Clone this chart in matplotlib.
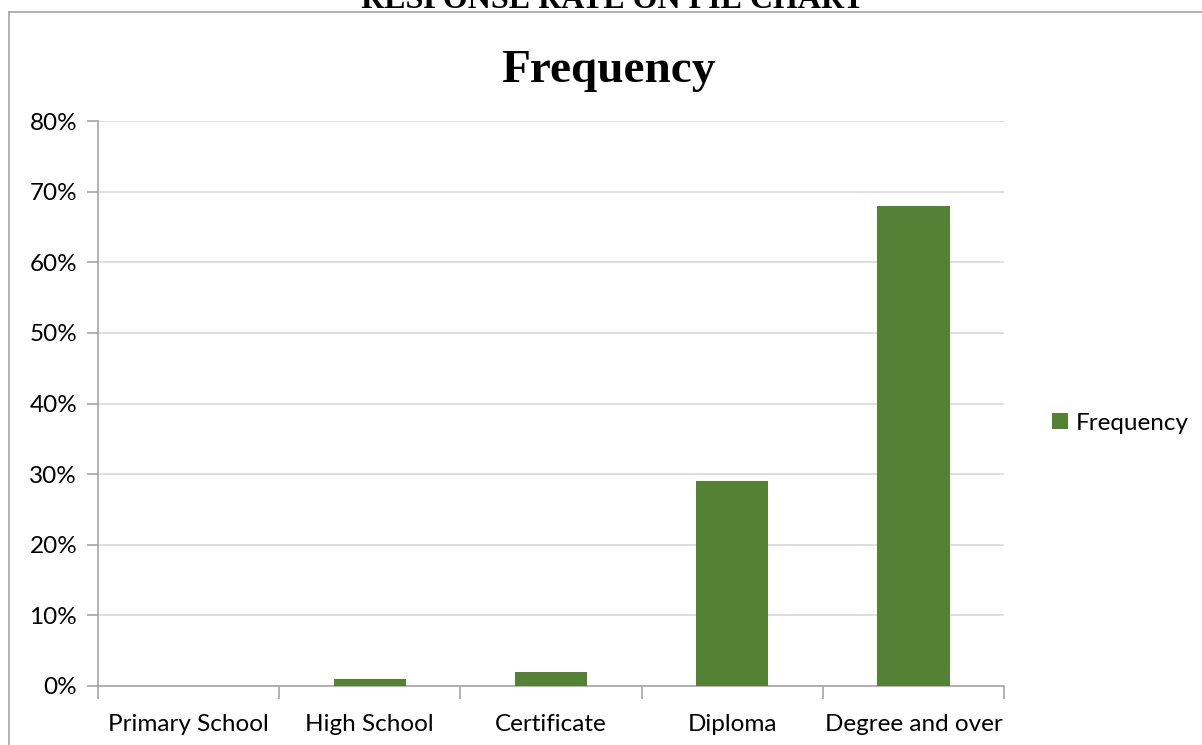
import matplotlib
matplotlib.use("Agg")
import matplotlib.pyplot as plt
from matplotlib.lines import Line2D
from matplotlib.patches import Patch
from matplotlib.ticker import PercentFormatter

# data
categories = ["Primary School", "High School", "Certificate", "Diploma", "Degree and over"]
frequency = [0.0, 0.01, 0.02, 0.29, 0.68]
y_ticks = [0.0, 0.1, 0.2, 0.3, 0.4, 0.5, 0.6, 0.7, 0.8]

green = "#548235"
grid_grey = "#d9d9d9"
axis_grey = "#a6a6a6"
label_font = "Lato"
label_size = 17.5

W, H = 1202, 745
fig = plt.figure(figsize=(W / 100, H / 100), dpi=100)
fig.patch.set_facecolor("white")

# chart frame (only the left and top edges fall inside the picture)
fig.add_artist(Line2D([9 / W, 9 / W], [0, 1 - 12 / H], transform=fig.transFigure,
                      color=axis_grey, lw=1.2))
fig.add_artist(Line2D([9 / W, 1], [1 - 12 / H, 1 - 12 / H], transform=fig.transFigure,
                      color=axis_grey, lw=1.2))

# caption of the document, cut off at the top edge like in the source
fig.text(613 / W, 1 - 8 / H, "RESPONSE RATE ON PIE CHART", ha="center", va="baseline",
         fontsize=23, fontweight="bold", family="Liberation Serif")

ax = fig.add_axes([98 / W, 1 - 686 / H, (1004 - 98) / W, (686 - 121) / H])
x = list(range(len(categories)))
ax.bar(x, frequency, width=0.4, color=green, zorder=3, label="Frequency")

ax.set_xlim(-0.5, len(categories) - 0.5)
ax.set_ylim(0, 0.8)
ax.set_yticks(y_ticks)
ax.yaxis.set_major_formatter(PercentFormatter(1.0, decimals=0))
ax.set_xticks(x)
ax.set_xticklabels(categories)
# category boundary ticks on the x axis
ax.set_xticks([i - 0.5 for i in range(len(categories) + 1)], minor=True)
ax.tick_params(axis="x", which="major", length=0, pad=20)
ax.tick_params(axis="x", which="minor", length=9, width=1.2, color=axis_grey, direction="out")
ax.tick_params(axis="y", length=8, width=1.2, color=axis_grey, pad=7)
for lab in ax.get_xticklabels() + ax.get_yticklabels():
    lab.set_family(label_font)
    lab.set_fontsize(label_size)

ax.grid(axis="y", color=grid_grey, lw=1.2, zorder=0)
for side in ["top", "right"]:
    ax.spines[side].set_visible(False)
ax.spines["left"].set_color(axis_grey)
ax.spines["bottom"].set_color(axis_grey)
ax.spines["left"].set_linewidth(1.2)
ax.spines["bottom"].set_linewidth(1.2)
ax.set_facecolor("none")

fig.text(608 / W, 1 - 82 / H, "Frequency", ha="center", va="baseline",
         fontsize=34, fontweight="bold", family="Liberation Serif")

handles = [Patch(facecolor=green, edgecolor="none", label="Frequency")]
fig.legend(handles=handles, loc="center left", bbox_to_anchor=(1030 / W, 1 - 423 / H),
           frameon=False, prop={"family": label_font, "size": label_size},
           handlelength=0.65, handleheight=0.65, handletextpad=0.35)

fig.savefig("out.png", dpi=100)
